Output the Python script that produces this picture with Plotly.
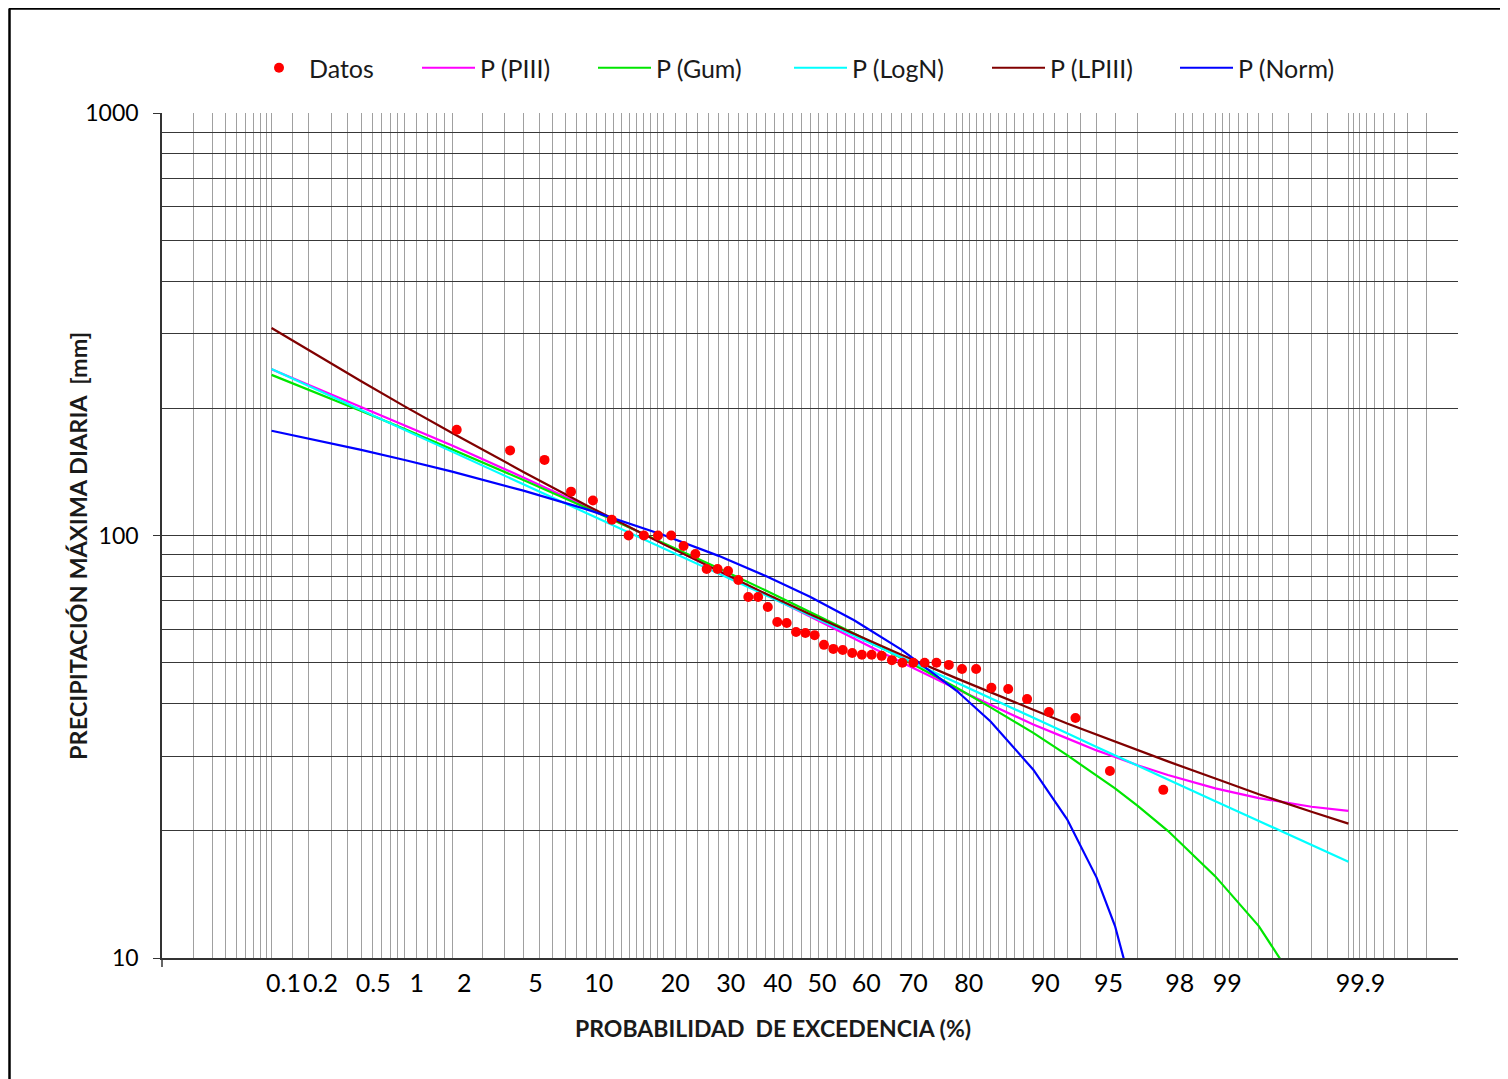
import plotly.graph_objects as go
from statistics import NormalDist

# ---------------- data ----------------
# Observed annual maximum daily precipitation (mm) and exceedance probability (%)
PROB_DATOS = [2.13, 4.26, 6.38, 8.51, 10.64, 12.77, 14.89, 17.02, 19.15, 21.28,
              23.40, 25.53, 27.66, 29.79, 31.91, 34.04, 36.17, 38.30, 40.43, 42.55,
              44.68, 46.81, 48.94, 51.06, 53.19, 55.32, 57.45, 59.57, 61.70, 63.83,
              65.96, 68.09, 70.21, 72.34, 74.47, 76.60, 78.72, 80.85, 82.98, 85.11,
              87.23, 89.36, 91.49, 93.62, 95.74, 97.87]
PREC_DATOS = [178.0, 159.0, 151.0, 127.0, 121.0, 109.0, 100.0, 100.0, 100.0, 100.0,
              94.4, 90.4, 83.3, 83.3, 82.4, 78.5, 71.5, 71.5, 67.7, 62.4,
              62.1, 59.1, 58.8, 58.1, 55.1, 53.9, 53.6, 52.7, 52.2, 52.2,
              51.9, 50.7, 50.0, 50.0, 50.0, 50.0, 49.4, 48.3, 48.3, 43.6,
              43.3, 41.0, 38.2, 37.0, 27.7, 25.0]

# Fitted distributions, exceedance probability (%) -> precipitation (mm)
PROB_CURVA = [0.1, 0.2, 0.5, 1, 2, 5, 10, 20, 30, 40, 50, 60, 70, 80, 85, 90,
              93, 95, 96, 97, 98, 99, 99.5, 99.8, 99.9]
P_PIII = [247.5, 227.3, 202.0, 182.7, 163.3, 137.2, 116.9, 95.6, 82.5, 72.5, 64.3,
          57.0, 50.1, 43.3, 39.7, 35.7, 33.1, 31.0, 29.9, 28.6, 27.1, 25.2, 23.9,
          22.8, 22.3]
P_GUM = [240.0, 221.5, 197.1, 178.6, 160.0, 135.3, 116.1, 96.2, 83.7, 74.1, 66.0,
         58.6, 51.3, 43.6, 39.2, 34.1, 30.2, 27.1, 25.2, 22.9, 20.0, 15.6, 11.9,
         7.65, 4.85]
P_LOGN = [247.9, 226.1, 198.2, 177.8, 157.9, 132.2, 112.9, 93.2, 81.2, 72.2, 64.7,
          57.9, 51.5, 44.9, 41.2, 37.0, 34.05, 31.6, 30.2, 28.5, 26.5, 23.5, 21.1,
          18.5, 16.9]
P_LPIII = [309.8, 274.5, 231.7, 202.1, 174.8, 141.4, 117.8, 95.4, 82.3, 72.8, 65.1,
           58.4, 52.2, 45.9, 42.5, 38.7, 35.9, 33.8, 32.5, 31.0, 29.2, 26.6, 24.4,
           22.2, 20.8]
P_NORM = [177.0, 169.7, 159.4, 150.9, 141.6, 127.7, 115.3, 100.3, 89.5, 80.2, 71.6,
          63.0, 53.7, 42.9, 36.3, 27.9, 21.3, 15.5, 11.9, 7.5, 1.6, None, None,
          None, None]

# Axis labels
TICK_PROB = [0.1, 0.2, 0.5, 1, 2, 5, 10, 20, 30, 40, 50, 60, 70, 80, 90, 95, 98, 99, 99.9]
TICK_TEXT = ["0.1", "0.2", "0.5", "1", "2", "5", "10", "20", "30", "40", "50", "60",
             "70", "80", "90", "95", "98", "99", "99.9"]
Y_TICKS = [10, 100, 1000]
Y_TICK_TEXT = ["10", "100", "1000"]
Y_GRID = [20, 30, 40, 50, 60, 70, 80, 90, 200, 300, 400, 500, 600, 700, 800, 900]

# probability-paper vertical grid (%)
GRID_PROB = ([round(0.01 * i, 2) for i in range(1, 11)] + [0.15]
             + [round(0.1 * i, 1) for i in range(2, 11)]
             + [1.2, 1.4, 1.6, 1.8]
             + list(range(2, 21)) + list(range(22, 80, 2)) + list(range(80, 98))
             + [98.2, 98.4, 98.6, 98.8] + [round(99 + 0.1 * i, 1) for i in range(0, 9)]
             + [99.85] + [round(99.9 + 0.01 * i, 2) for i in range(0, 10)])

# ---------------- scale (normal probability axis) ----------------
nd = NormalDist()


def zq(p):
    return nd.inv_cdf(p / 100.0)


# page body has an 8 px margin; figure sized so the plot lands at page px 162..1458 / 113..958
OFF = 8
PL, PT, PR, PB = 162, 113, 1458, 958       # plot area in page pixels
W, H = 1508 - OFF, 1079 - OFF
L, T = PL - OFF, PT - OFF
R, B = W + OFF - PR, H + OFF - PB
PW, PH = PR - PL, PB - PT
XMIN, XMAX = zq(0.01), zq(99.99)
LABEL_SHIFT = 12.0 * (XMAX - XMIN) / PW  # labels sit slightly right of their grid line


def px_x(px):
    return (px - PL) / PW


def px_y(py):
    return (PB - py) / PH


FONT = "Lato, 'Open Sans', sans-serif"

fig = go.Figure()

series = [
    ("P (PIII)", P_PIII, "#FF00FF", "legend2", 417),
    ("P (Gum)", P_GUM, "#00E600", "legend3", 593),
    ("P (LogN)", P_LOGN, "#00FFFF", "legend4", 789),
    ("P (LPIII)", P_LPIII, "#800000", "legend5", 987),
    ("P (Norm)", P_NORM, "#0000FF", "legend6", 1175),
]
xs_curve = [zq(p) for p in PROB_CURVA]
for name, vals, col, leg, _ in series:
    fig.add_trace(go.Scatter(x=xs_curve, y=vals, mode="lines", name=name,
                             line=dict(color=col, width=2.2), legend=leg,
                             connectgaps=False))

fig.add_trace(go.Scatter(x=[zq(p) for p in PROB_DATOS], y=PREC_DATOS, mode="markers",
                         name="Datos", marker=dict(color="#FF0000", size=10),
                         legend="legend"))

leg_y = px_y(68)
legends = {"legend": dict(x=px_x(249), itemwidth=50)}
for name, vals, col, leg, xpx in series:
    legends[leg] = dict(x=px_x(xpx), itemwidth=53)
for k, v in legends.items():
    v.update(dict(xanchor="left", y=leg_y, yanchor="middle", orientation="h",
                  bgcolor="rgba(0,0,0,0)", borderwidth=0,
                  font=dict(family=FONT, size=25, color="#1a1a1a")))
fig.update_layout(**legends)

fig.update_layout(
    width=W, height=H,
    margin=dict(l=L, r=R, t=T, b=B, pad=0),
    paper_bgcolor="white", plot_bgcolor="white",
    showlegend=True,
    font=dict(family=FONT, color="#000000"),
    xaxis=dict(
        range=[XMIN, XMAX], showgrid=False, zeroline=False,
        tickmode="array", tickvals=[zq(p) + LABEL_SHIFT for p in TICK_PROB],
        ticktext=TICK_TEXT, ticks="", ticklabelstandoff=2,
        tickfont=dict(family=FONT, size=25, color="#000000"),
        showline=True, linecolor="#333333", linewidth=1.5,
        minor=dict(tickmode="array", tickvals=[zq(p) for p in GRID_PROB],
                   showgrid=True, gridcolor="#A0A0A0", gridwidth=1.1, ticks=""),
        layer="below traces",
    ),
    yaxis=dict(
        type="log", range=[1, 3], zeroline=False,
        tickmode="array", tickvals=Y_TICKS, ticktext=Y_TICK_TEXT,
        ticks="outside", ticklen=7, tickcolor="#333333", tickwidth=1.2,
        ticklabelstandoff=10,
        tickfont=dict(family=FONT, size=23, color="#000000"),
        showgrid=True, gridcolor="#383838", gridwidth=1.3,
        showline=True, linecolor="#333333", linewidth=1.5,
        minor=dict(tickmode="array", tickvals=Y_GRID, showgrid=True,
                   gridcolor="#383838", gridwidth=1.3, ticks=""),
        layer="below traces",
    ),
)

# axis titles
fig.add_annotation(text="<b>PROBABILIDAD\u00a0\u00a0DE EXCEDENCIA (%)</b>",
                   xref="paper", yref="paper", x=px_x(773), y=px_y(1028),
                   xanchor="center", yanchor="middle", showarrow=False,
                   font=dict(family=FONT, size=23, color="#1a1a1a"))
fig.add_annotation(text="<b>PRECIPITACIÓN MÁXIMA DIARIA\u00a0\u00a0[mm]</b>",
                   xref="paper", yref="paper", x=px_x(78), y=px_y(546),
                   xanchor="center", yanchor="middle", showarrow=False, textangle=-90,
                   font=dict(family=FONT, size=23.5, color="#1a1a1a"))

# small axis tick below the lower-left corner
fig.add_shape(type="line", xref="paper", yref="paper",
              x0=0, x1=0, y0=0, y1=px_y(967),
              line=dict(color="#333333", width=1.5))

# outer chart frame (top and left edges visible)
fig.add_shape(type="line", xref="paper", yref="paper",
              x0=px_x(9), x1=px_x(1520), y0=px_y(8.5), y1=px_y(8.5),
              line=dict(color="#000000", width=2.5))
fig.add_shape(type="line", xref="paper", yref="paper",
              x0=px_x(9.5), x1=px_x(9.5), y0=px_y(8.5), y1=px_y(1090),
              line=dict(color="#000000", width=2.5))

fig.write_html("out.html")
